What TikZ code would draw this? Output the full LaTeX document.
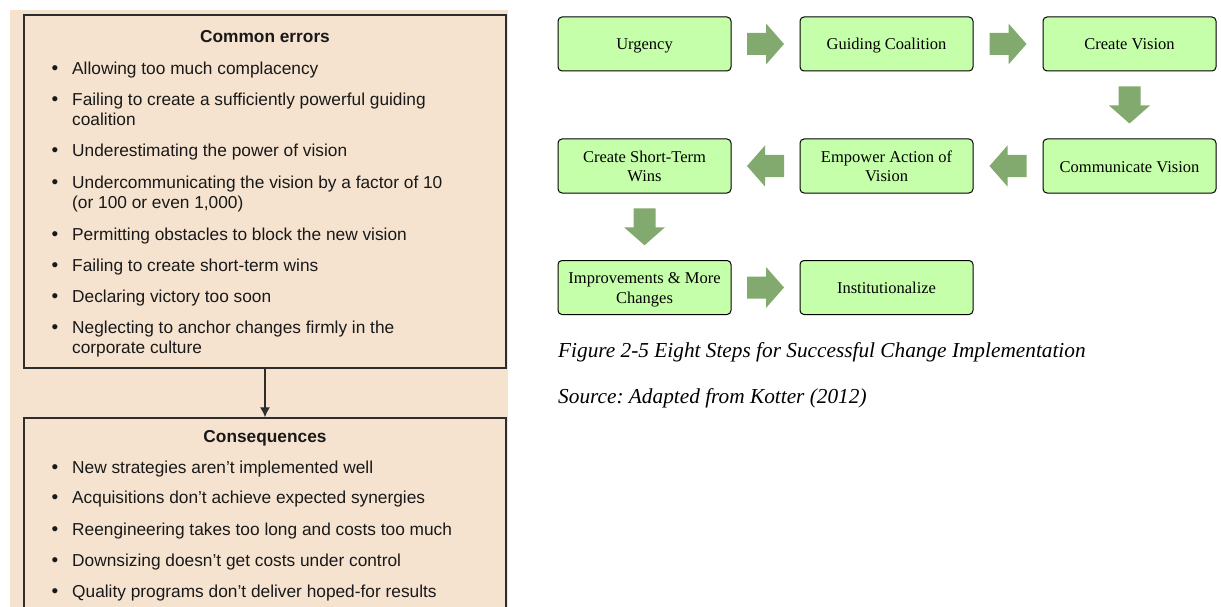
\documentclass[tikz,border=0pt]{standalone}
\usepackage{fontspec}
\setmainfont{Liberation Serif}
\newfontfamily\arialf{Liberation Sans}
\usetikzlibrary{calc,arrows.meta}
\frenchspacing
\definecolor{beige}{RGB}{245,227,207}
\definecolor{boxgreen}{RGB}{198,255,170}
\definecolor{arrowgreen}{RGB}{130,170,110}
\definecolor{ink}{RGB}{25,25,25}
\definecolor{frame}{RGB}{45,45,45}
\newcommand{\sr}{\rule[-4pt]{0pt}{20pt}}
\tikzset{
  listtxt/.style={anchor=base west,inner sep=0pt,text=ink,font=\arialf\fontsize{17.3}{20}\selectfont},
  bul/.style={anchor=base,inner sep=0pt,text=ink,font=\arialf\fontsize{19}{20}\selectfont},
  ttl/.style={anchor=base,inner sep=0pt,text=ink,font=\arialf\bfseries\fontsize{17.3}{20}\selectfont},
  panelbox/.style={draw=frame,line width=1.5pt,minimum width=482pt,inner sep=0pt},
  stepbox/.style={draw=black,line width=1pt,fill=boxgreen,rounded corners=4pt,minimum width=173pt,minimum height=54pt,inner sep=0pt,align=center,font=\fontsize{16.5}{20}\selectfont},
  caption/.style={anchor=base west,inner sep=0pt,font=\itshape\fontsize{21.3}{24}\selectfont},
  blockarrow/.pic={\fill[arrowgreen] (-18.5,-11) -- (0.5,-11) -- (0.5,-20.5) -- (18.5,0) -- (0.5,20.5) -- (0.5,11) -- (-18.5,11) -- cycle;}
}
\begin{document}
\begin{tikzpicture}[x=1pt,y=-1pt]
\useasboundingbox (0,0) rectangle (1221,607);
\fill[white] (0,0) rectangle (1221,607);
% left panel
\fill[beige] (10,10) rectangle (508,607);
\node[panelbox,minimum height=353pt] (errbox) at (265,191.5) {};
\node[panelbox,minimum height=222pt] (consbox) at (265,529) {};
\draw[frame,line width=1.3pt,-{Latex[length=10pt,width=10pt]}] (errbox.south) -- (consbox.north);
\node[ttl] (t1) at (265,43) {Common errors};
\foreach \n/\y/\b/\t in {
 e1/75/1/Allowing too much complacency,
 e2/106/1/Failing to create a sufficiently powerful guiding,
 e3/126/0/coalition,
 e4/157/1/Underestimating the power of vision,
 e5/188/1/Undercommunicating the vision by a factor of 10,
 e6/208/0/{(or 100 or even 1,000)},
 e7/240/1/Permitting obstacles to block the new vision,
 e8/271/1/Failing to create short-term wins,
 e9/302/1/Declaring victory too soon,
 e10/333/1/Neglecting to anchor changes firmly in the,
 e11/353/0/corporate culture,
 c1/473/1/New strategies aren’t implemented well,
 c2/503/1/Acquisitions don’t achieve expected synergies,
 c3/535/1/Reengineering takes too long and costs too much,
 c4/566/1/Downsizing doesn’t get costs under control,
 c5/597/1/Quality programs don’t deliver hoped-for results}{
  \node[listtxt] (\n) at (72,\y) {\t};
  \ifnum\b=1 \node[bul] (b\n) at (55,\y) {•};\fi
}
\node[ttl] (t2) at (265,442) {Consequences};
% right: steps
\node[stepbox] (s1) at (644.5,44) {\sr Urgency};
\node[stepbox] (s2) at (886.5,44) {\sr Guiding Coalition};
\node[stepbox] (s3) at (1129.5,44) {\sr Create Vision};
\node[stepbox] (s4) at (1129.5,166) {\sr Communicate Vision};
\node[stepbox] (s5) at (886.5,166) {\sr Empower Action of\\\sr Vision};
\node[stepbox] (s6) at (644.5,166) {\sr Create Short-Term\\\sr Wins};
\node[stepbox] (s7) at (644.5,287.5) {\sr Improvements \& More\\\sr Changes};
\node[stepbox] (s8) at (886.5,287.5) {\sr Institutionalize};
\pic at ($(s1.east)!0.5!(s2.west)$) {blockarrow};
\pic at ($(s2.east)!0.5!(s3.west)$) {blockarrow};
\pic[rotate=-90] at ($(s3.south)!0.5!(s4.north)$) {blockarrow};
\pic[rotate=180] at ($(s4.west)!0.5!(s5.east)$) {blockarrow};
\pic[rotate=180] at ($(s5.west)!0.5!(s6.east)$) {blockarrow};
\pic[rotate=-90] at ($(s6.south)!0.5!(s7.north)$) {blockarrow};
\pic at ($(s7.east)!0.5!(s8.west)$) {blockarrow};
\node[caption] (cap) at (558,357) {Figure 2-5 Eight Steps for Successful Change Implementation};
\node[caption] (src) at (558,403) {Source: Adapted from Kotter (2012)};
\end{tikzpicture}
\end{document}
